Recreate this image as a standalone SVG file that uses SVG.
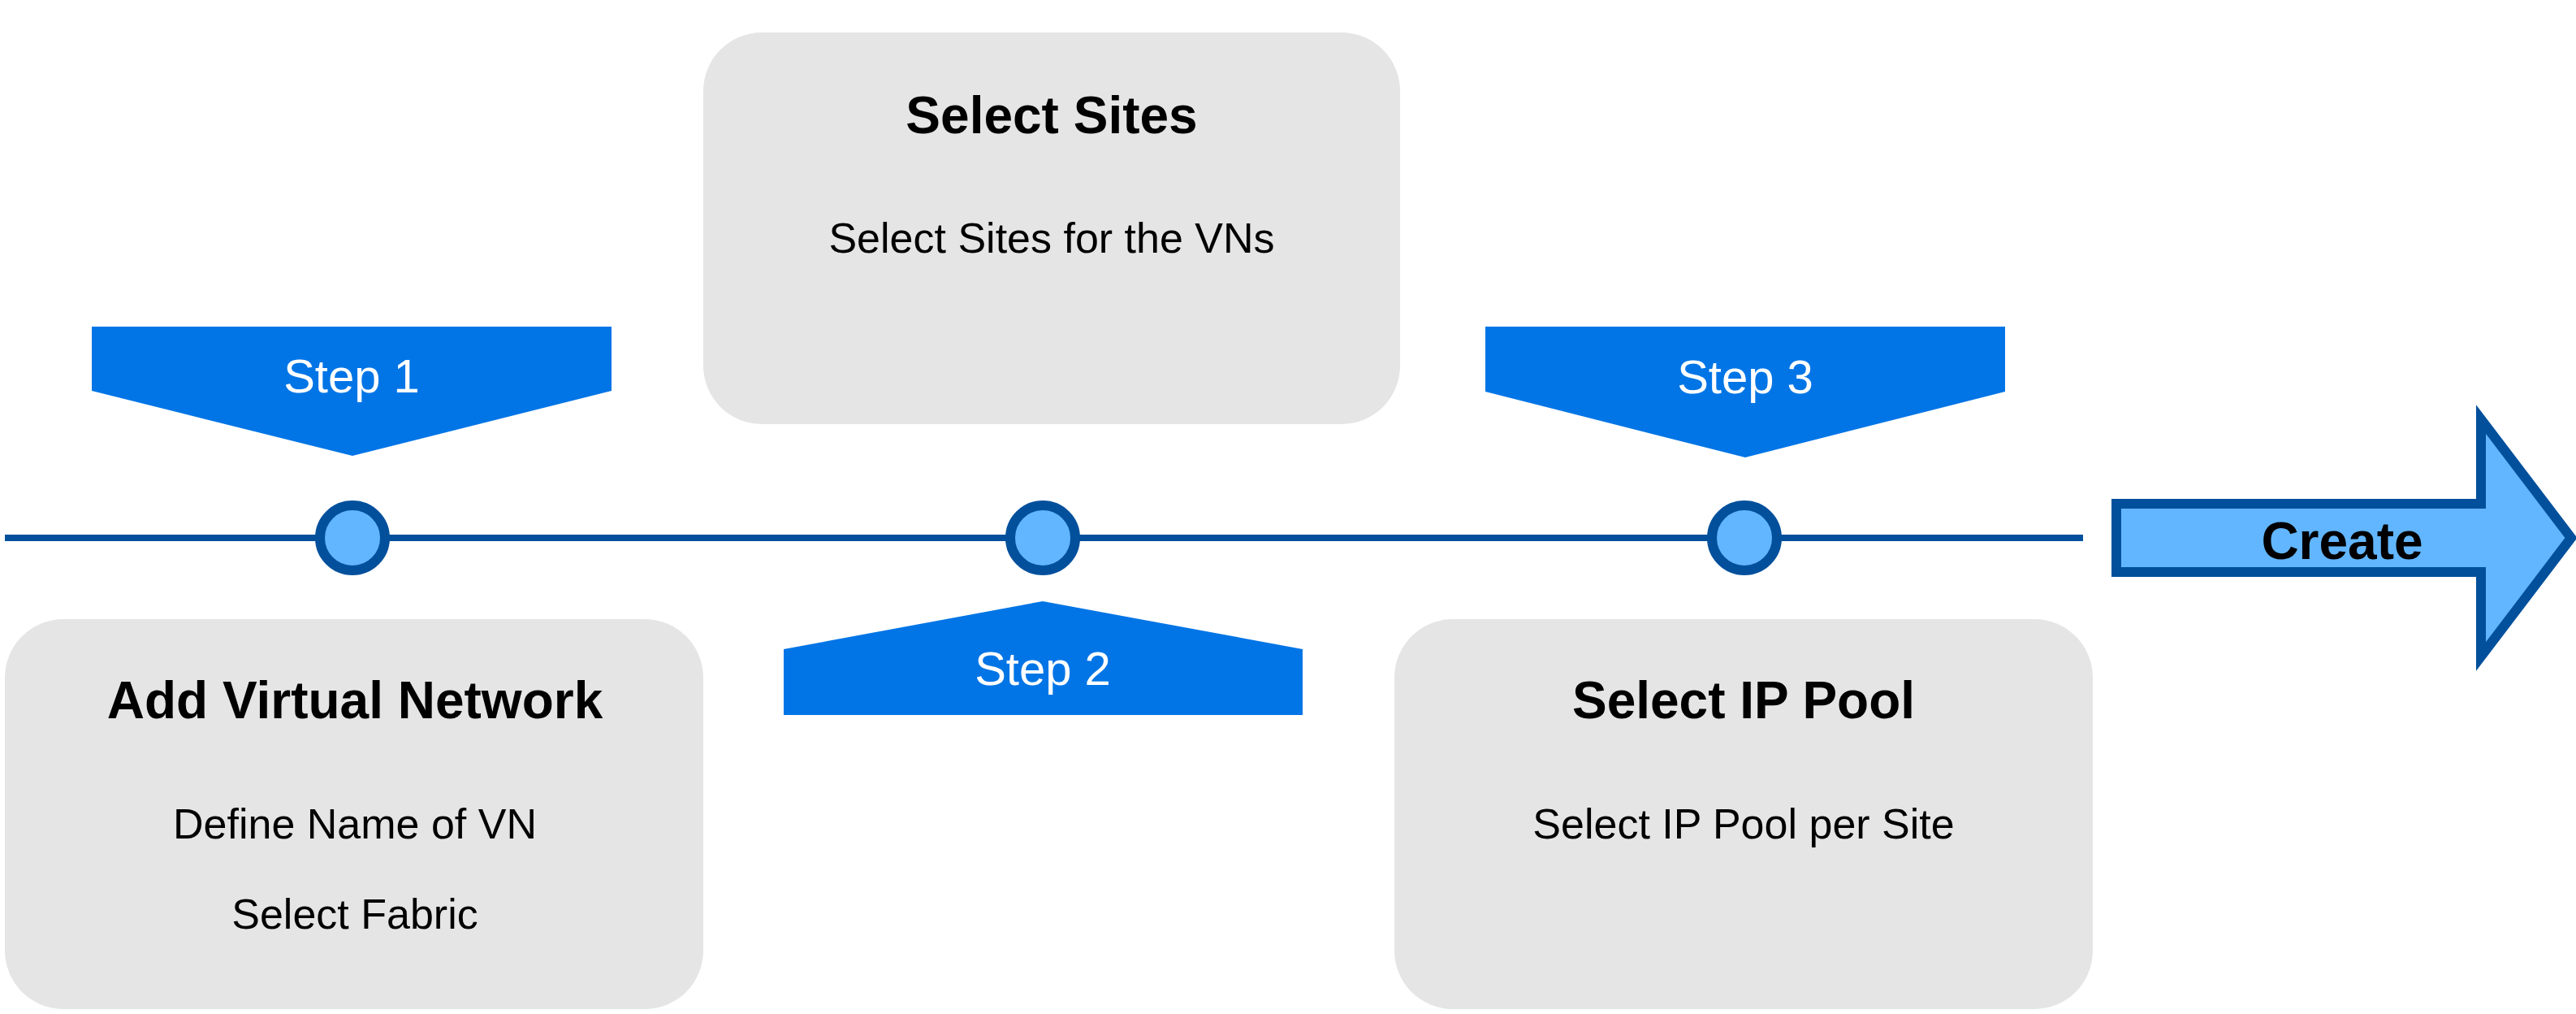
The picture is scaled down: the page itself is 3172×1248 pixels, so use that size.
<svg xmlns="http://www.w3.org/2000/svg" width="3172" height="1248" viewBox="0 0 3172 1248">
<style>
.box{fill:#e5e5e5;}
.step{fill:#0275e6;}
.steptxt{font-family:"Liberation Sans",Arial,sans-serif;font-size:58px;fill:#ffffff;text-anchor:middle;}
.title{font-family:"Liberation Sans",Arial,sans-serif;font-size:64px;font-weight:bold;fill:#000000;text-anchor:middle;}
.sub{font-family:"Liberation Sans",Arial,sans-serif;font-size:52px;fill:#000000;text-anchor:middle;}
.dot{fill:#62b6ff;stroke:#02509c;stroke-width:12;}
.line{stroke:#02509c;stroke-width:8;fill:none;}
</style>
<rect width="3172" height="1248" fill="#ffffff"/>
<g id="connectors">
<line class="line" x1="6" y1="662" x2="2565" y2="662"/>
</g>
<g id="box-sites">
<rect class="box" x="866" y="40" width="858" height="482" rx="72" ry="72"/>
<text class="title" x="1295" y="164">Select Sites</text>
<text class="sub" x="1295" y="311">Select Sites for the VNs</text>
</g>
<g id="box-vn">
<rect class="box" x="6" y="762" width="860" height="480" rx="72" ry="72"/>
<text class="title" x="437" y="884">Add Virtual Network</text>
<text class="sub" x="437" y="1032">Define Name of VN</text>
<text class="sub" x="437" y="1143">Select Fabric</text>
</g>
<g id="box-ip">
<rect class="box" x="1717" y="762" width="860" height="480" rx="72" ry="72"/>
<text class="title" x="2147" y="884">Select IP Pool</text>
<text class="sub" x="2147" y="1032">Select IP Pool per Site</text>
</g>
<g id="step1">
<polygon class="step" points="113,402 753,402 753,481 434,561 113,481"/>
<text class="steptxt" x="433" y="483">Step 1</text>
</g>
<g id="step2">
<polygon class="step" points="965,880 965,799 1284,740 1604,799 1604,880"/>
<text class="steptxt" x="1284" y="843">Step 2</text>
</g>
<g id="step3">
<polygon class="step" points="1829,402 2469,402 2469,482 2149,563 1829,482"/>
<text class="steptxt" x="2149" y="484">Step 3</text>
</g>
<g id="dot1"><circle class="dot" cx="434" cy="662" r="40"/></g>
<g id="dot2"><circle class="dot" cx="1284" cy="662" r="40"/></g>
<g id="dot3"><circle class="dot" cx="2148" cy="662" r="40"/></g>
<g id="create">
<polygon points="2606,620 3055,620 3055,516 3166,662 3055,808 3055,704 2606,704" fill="#62b6ff" stroke="#02509c" stroke-width="12" stroke-linejoin="miter"/>
<text class="title" x="2884" y="688">Create</text>
</g>
</svg>
